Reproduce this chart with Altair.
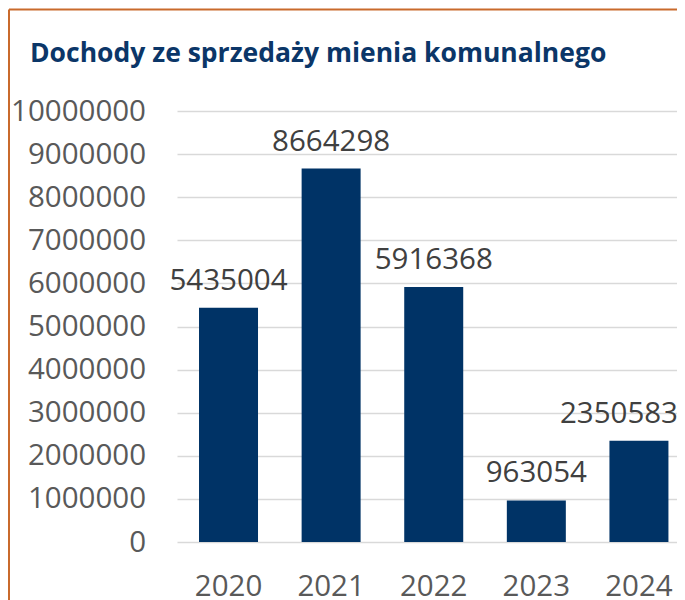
import altair as alt
import pandas as pd

years = ["2020", "2021", "2022", "2023", "2024"]
values = [5435004, 8664298, 5916368, 963054, 2350583]
y_ticks = [0, 1000000, 2000000, 3000000, 4000000, 5000000,
           6000000, 7000000, 8000000, 9000000, 10000000]

df = pd.DataFrame({"year": years, "value": values})

FONT = "Open Sans"
BAR = "#003366"
BORDER = "#C96A2C"
FS = 29.5

x_enc = alt.X(
    "year:N",
    sort=years,
    title=None,
    scale=alt.Scale(paddingInner=0.425, paddingOuter=0.149, align=0.72),
    axis=alt.Axis(labelAngle=0, ticks=False, domain=False, labelPadding=30,
                  labelFontSize=FS, labelColor="#595959", labelFont=FONT,
                  grid=False),
)
y_enc = alt.Y(
    "value:Q",
    title=None,
    scale=alt.Scale(domain=[0, 10000000], nice=False),
    axis=alt.Axis(values=y_ticks, format="d", ticks=False, domain=False,
                  labelPadding=31.5, labelFontSize=FS, labelColor="#595959",
                  labelFont=FONT, gridColor="#d9d9d9", gridWidth=1.5),
)

bars = alt.Chart(df).mark_bar(color=BAR).encode(x=x_enc, y=y_enc)

label_x = alt.X("year:N", sort=years)
labels = alt.Chart(df).transform_filter(alt.datum.year != "2024").mark_text(
    font=FONT, fontSize=FS, color="#404040", baseline="alphabetic", dy=-18
).encode(x=label_x, y="value:Q", text=alt.Text("value:Q", format="d"))
last_label = alt.Chart(df).transform_filter(alt.datum.year == "2024").mark_text(
    font=FONT, fontSize=FS, color="#404040", baseline="alphabetic", dy=-18, dx=-20
).encode(x=label_x, y="value:Q", text=alt.Text("value:Q", format="d"))

border_data = alt.Data(values=[{"k": 1}])
left_rule = alt.Chart(border_data).mark_rule(color=BORDER, strokeWidth=2).encode(
    x=alt.value(-168), y=alt.value(-101.5), y2=alt.value(700)
)
top_rule = alt.Chart(border_data).mark_rule(color=BORDER, strokeWidth=2).encode(
    x=alt.value(-168), x2=alt.value(700), y=alt.value(-101.5)
)

chart = alt.layer(bars, labels, last_label, left_rule, top_rule).properties(
    width=500,
    height=431,
    title=alt.TitleParams(
        "Dochody ze sprzedaży mienia komunalnego",
        anchor="start", frame="group", dx=-147, offset=-80,
        baseline="alphabetic", font=FONT, fontSize=26.5, fontWeight="bold",
        color="#0B3668",
    ),
    autosize=alt.AutoSizeParams(type="none"),
    padding={"left": 169, "top": 103, "right": 0, "bottom": 70},
).configure_view(stroke=None).configure_axis(labelFontWeight="normal")

chart.save("out.html", embed_options={"renderer": "svg", "actions": False})
